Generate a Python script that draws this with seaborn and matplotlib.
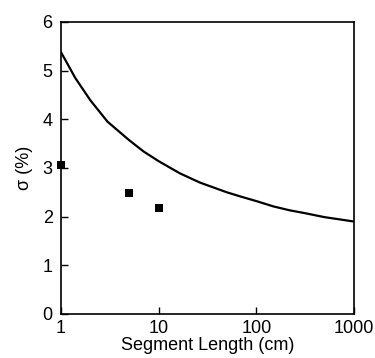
import matplotlib
matplotlib.use("Agg")
import matplotlib.pyplot as plt
import seaborn as sns
import pandas as pd
from matplotlib.ticker import FixedLocator, NullLocator, FixedFormatter

sns.set_theme(style="white")
plt.rcParams['font.family'] = ['Liberation Sans', 'DejaVu Sans']

# Model curve
curve_x = [1, 1.4, 2, 3, 5, 7, 10, 16.5, 26.5, 50, 70, 100, 150, 220, 300, 500, 1000]
curve_y = [5.38, 4.85, 4.39, 3.95, 3.57, 3.34, 3.14, 2.89, 2.70, 2.50, 2.41, 2.32, 2.21, 2.13, 2.08, 1.99, 1.90]

# Measured points
pts_x = [1, 5, 10]
pts_y = [3.07, 2.48, 2.18]

x_ticks = [1, 10, 100, 1000]
x_tick_labels = ["1", "10", "100", "1000"]
y_ticks = [0, 1, 2, 3, 4, 5, 6]

curve = pd.DataFrame({"x": curve_x, "y": curve_y})
pts = pd.DataFrame({"x": pts_x, "y": pts_y})

fig = plt.figure(figsize=(3.75, 3.58), dpi=100)
ax = fig.add_axes([61/375, 1-314/358, (354-61)/375, (314-22)/358])

sns.lineplot(data=curve, x="x", y="y", ax=ax, color="black", linewidth=1.6)
sns.scatterplot(data=pts, x="x", y="y", ax=ax, color="black", marker="s",
                s=36, edgecolor="black", linewidth=0, zorder=5, clip_on=False)

ax.set_xscale("log")
ax.set_xlim(1, 1000)
ax.set_ylim(0, 6)
ax.xaxis.set_major_locator(FixedLocator(x_ticks))
ax.xaxis.set_major_formatter(FixedFormatter(x_tick_labels))
ax.xaxis.set_minor_locator(NullLocator())
ax.set_yticks(y_ticks)
ax.set_yticklabels([str(v) for v in y_ticks])

for s in ax.spines.values():
    s.set_color("black")
    s.set_linewidth(1.2)

ax.tick_params(axis="both", direction="in", length=5, width=1, color="black",
               labelsize=13, labelcolor="black", bottom=True, left=True)
ax.tick_params(axis="x", pad=4)
ax.tick_params(axis="y", pad=6)
ax.set_xlabel("Segment Length (cm)", fontsize=13, color="black", labelpad=0)
ax.set_ylabel("σ (%)", fontsize=13, color="black", labelpad=7)

fig.savefig("out.png", dpi=100)
